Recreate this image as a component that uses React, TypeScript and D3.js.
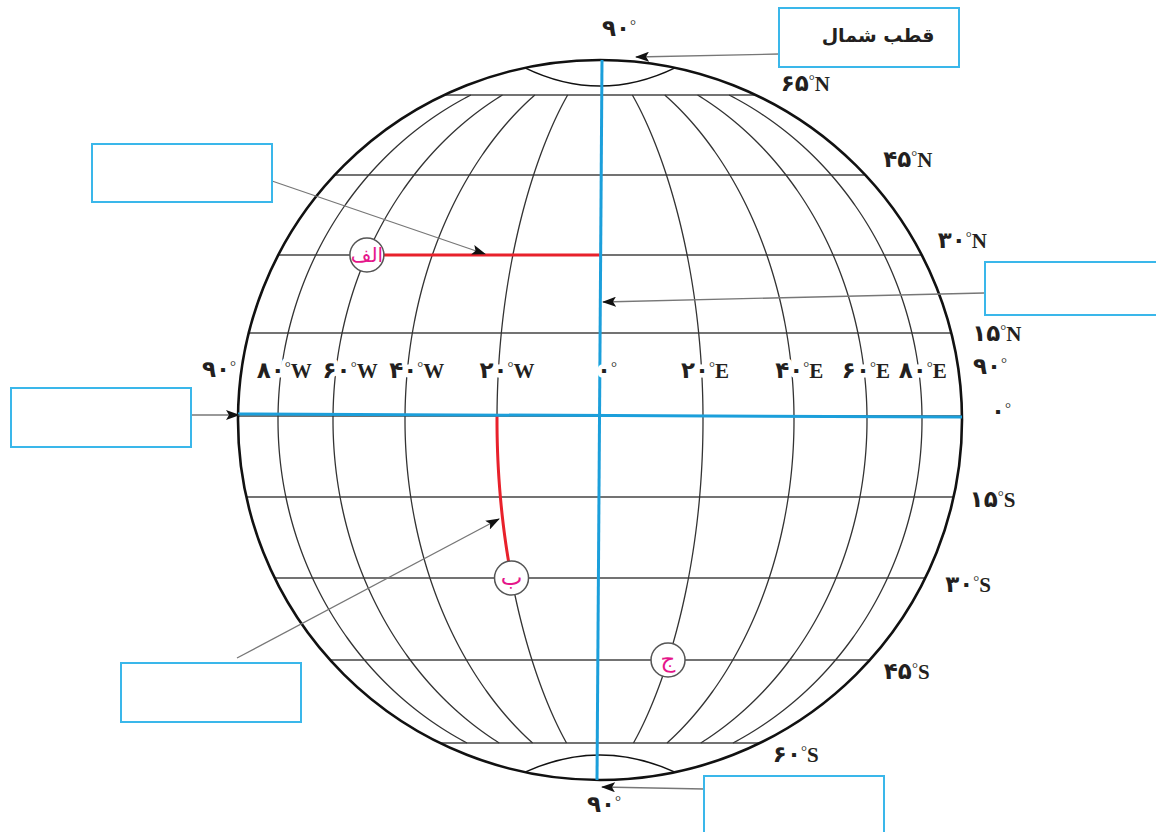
import React from "react";
import * as d3 from "d3";

// ---------- data ----------
const latitudes = [60, 45, 30, 15, 0, -15, -30, -45, -60];
const latitudeTexts = ["۶۵°N", "۴۵°N", "۳۰°N", "۱۵°N", "", "۱۵°S", "۳۰°S", "۴۵°S", "۶۰°S"];
const longitudes = [-80, -60, -40, -20, 0, 20, 40, 60, 80];
const longitudeTexts = ["۸۰°W", "۶۰°W", "۴۰°W", "۲۰°W", "۰°", "۲۰°E", "۴۰°E", "۶۰°E", "۸۰°E"];
const poleText = "۹۰°";
const equatorText = "۰°";
const northPoleTitle = "قطب شمال";
const pointNames = ["الف", "ب", "ج"];
const pointLons = [-60, -20, 20];
const pointLats = [30, -30, -45];

// ---------- layout ----------
const W = 1156, H = 832;
const CX = 600, CY = 420, RX = 362, RY = 360;
const yScale = d3.scaleLinear().domain(latitudes).range([95, 175, 255, 333, 416, 497, 578, 660, 743]);
const dScale = d3
  .scaleLinear()
  .domain([-90, -80, -60, -40, -20, 0, 20, 40, 60, 80, 90])
  .range([-362, -322, -267, -195, -103, 0, 103, 194, 267, 322, 362]);
const latLabelOffsets = [[25, -4], [18, -8], [16, -7], [21, 8], [0, 0], [16, 10], [20, 14], [14, 19], [13, 19]];
const lonLabelDx = [4, 15, 10, 9, 7, 3, 7, 1, 3];
const pointFontSizes = [20, 23, 23];

const BLUE = "#1b9fdb";
const BOX = "#3ab7ea";
const RED = "#e8212b";
const PINK = "#e5168a";
const LABEL_FONT = "'Liberation Serif', 'DejaVu Sans', serif";
const AR_FONT = "'DejaVu Sans', sans-serif";
const DIGIT_SIZE = 23;
const LETTER_SIZE = 21;

function edgeX(y: number) {
  const t = (y - CY) / RY;
  return RX * Math.sqrt(Math.max(0, 1 - t * t));
}
function meridianX(lon: number, y: number) {
  const d = dScale(lon);
  if (d === 0) return CX;
  const ad = Math.abs(d);
  const dy = y - CY;
  const t = dy / RY;
  const e = Math.sqrt(Math.max(0, 1 - t * t));
  const R = (RY * RY + ad * ad) / (2 * ad);
  const c = (Math.sqrt(Math.max(0, R * R - dy * dy)) - (R - ad)) / ad;
  const f = (e + c) / 2;
  return CX + Math.sign(d) * ad * f;
}

const line = d3.line<[number, number]>().curve(d3.curveBasis);

function meridianPath(lon: number, y0: number, y1: number) {
  const ys = d3.range(y0, y1, 3).concat([y1]);
  return line(ys.map((y) => [meridianX(lon, y), y]));
}

function LabelCore(props: { text: string; x: number; y: number; anchor?: string; extra?: any }) {
  const idx = props.text.indexOf("°");
  const digits = idx >= 0 ? props.text.slice(0, idx) : props.text;
  const letter = idx >= 0 ? props.text.slice(idx + 1) : "";
  return (
    <text
      x={props.x}
      y={props.y}
      textAnchor={props.anchor || "start"}
      fontFamily={LABEL_FONT}
      fontWeight="bold"
      fontSize={LETTER_SIZE}
      fill="#231f20"
      direction="ltr"
      {...(props.extra || {})}
    >
      <tspan fontFamily={AR_FONT} fontSize={DIGIT_SIZE}>{digits}</tspan>
      <tspan fontSize={15} fontWeight="normal" dy={-6}>°</tspan>
      <tspan dy={6}>{letter}</tspan>
    </text>
  );
}

function LabelText(props: { text: string; x: number; y: number; anchor?: string; halo?: boolean }) {
  return (
    <g>
      {props.halo && (
        <LabelCore
          {...props}
          extra={{ fill: "#fff", stroke: "#fff", strokeWidth: 9, strokeLinejoin: "round" }}
        />
      )}
      <LabelCore {...props} />
    </g>
  );
}

const boxes = [
  [779, 8, 180, 59],
  [92, 144, 180, 58],
  [985, 262, 180, 53],
  [11, 388, 180, 59],
  [121, 663, 180, 59],
  [704, 776, 180, 70],
];
const arrows = [
  [272, 181, 485, 254],
  [779, 54, 636, 57],
  [984, 293, 603, 302],
  [191, 415, 239, 415],
  [237, 658, 499, 519],
  [704, 789, 602, 787],
];

export default function App() {
  const yTop = yScale(60);
  const yBot = yScale(-60);
  const capDx = 75;
  const capTopY = CY - RY * Math.sqrt(1 - (capDx / RX) ** 2);
  const capBotY = CY + RY * Math.sqrt(1 - (capDx / RX) ** 2);

  return (
    <svg width={W} height={H} style={{ position: "absolute", left: 0, top: 0, background: "#fff" }}>
      <defs>
        <marker id="ah" markerUnits="userSpaceOnUse" markerWidth={14} markerHeight={10} refX={13} refY={5} orient="auto">
          <path d="M0,0 L14,5 L0,10 L3,5 Z" fill="#111" />
        </marker>
      </defs>
      <rect width={W} height={H} fill="#fff" />

      {/* parallels */}
      {latitudes.map((lat) => {
        const y = yScale(lat);
        const hw = edgeX(y);
        return <line key={"p" + lat} x1={CX - hw} x2={CX + hw} y1={y} y2={y} stroke="#444" strokeWidth={1.3} />;
      })}

      {/* meridians */}
      {longitudes
        .filter((l) => l !== 0)
        .map((lon) => (
          <path key={"m" + lon} d={meridianPath(lon, yTop, yBot) || ""} fill="none" stroke="#333" strokeWidth={1.3} />
        ))}

      {/* outer globe */}
      <ellipse cx={CX} cy={CY} rx={RX} ry={RY} fill="none" stroke="#111" strokeWidth={2.6} />

      {/* polar caps */}
      <path
        d={`M${CX - capDx},${capTopY} Q${CX},${2 * 86 - capTopY} ${CX + capDx},${capTopY}`}
        fill="none"
        stroke="#111"
        strokeWidth={1.5}
      />
      <path
        d={`M${CX - capDx},${capBotY} Q${CX},${2 * 755 - capBotY} ${CX + capDx},${capBotY}`}
        fill="none"
        stroke="#111"
        strokeWidth={1.5}
      />

      {/* red segments */}
      <line x1={meridianX(pointLons[0], yScale(pointLats[0]))} x2={CX} y1={yScale(30)} y2={yScale(30)} stroke={RED} strokeWidth={3} />
      <path d={meridianPath(pointLons[1], yScale(0), yScale(pointLats[1])) || ""} fill="none" stroke={RED} strokeWidth={3} />

      {/* blue lines */}
      <line x1={CX + 2} x2={CX - 3} y1={CY - RY} y2={CY + RY} stroke={BLUE} strokeWidth={3} />

      {/* longitude labels (with white halo that breaks the meridians) */}
      {longitudes.map((lon, i) => (
        <LabelText
          key={"ln" + lon}
          text={longitudeTexts[i]}
          x={meridianX(lon, 378) + lonLabelDx[i]}
          y={378}
          anchor="middle"
          halo
        />
      ))}

      <line x1={CX - RX} x2={CX + RX} y1={yScale(0) - 2} y2={yScale(0) + 1} stroke={BLUE} strokeWidth={3} />

      {/* arrows */}
      {arrows.map(([x1, y1, x2, y2], i) => (
        <line key={"a" + i} x1={x1} y1={y1} x2={x2} y2={y2} stroke="#777" strokeWidth={1.3} markerEnd="url(#ah)" />
      ))}

      {/* point markers */}
      {pointNames.map((name, i) => {
        const y = yScale(pointLats[i]);
        const x = meridianX(pointLons[i], y);
        return (
          <g key={"pt" + i}>
            <circle cx={x} cy={y} r={17} fill="#fff" stroke="#555" strokeWidth={1.5} />
            <text x={x} y={y + 7} textAnchor="middle" fontFamily={AR_FONT} fontSize={pointFontSizes[i]} fill={PINK}>
              {name}
            </text>
          </g>
        );
      })}

      {/* latitude labels */}
      {latitudes.map((lat, i) => {
        if (!latitudeTexts[i]) return null;
        const y = yScale(lat);
        const [dx, dy] = latLabelOffsets[i];
        return <LabelText key={"lt" + lat} text={latitudeTexts[i]} x={CX + edgeX(y) + dx} y={y + dy} />;
      })}

      {/* pole / equator end labels */}
      <LabelText text={poleText} x={619} y={36} anchor="middle" />
      <LabelText text={poleText} x={604} y={812} anchor="middle" />
      <LabelText text={poleText} x={CX - RX - 2} y={377} anchor="end" />
      <LabelText text={poleText} x={973} y={374} />
      <LabelText text={equatorText} x={991} y={419} />

      {/* boxes */}
      {boxes.map(([x, y, w, h], i) => (
        <rect key={"b" + i} x={x} y={y} width={w} height={h} fill="#fff" stroke={BOX} strokeWidth={2} />
      ))}
      <text x={878} y={42} textAnchor="middle" fontFamily={AR_FONT} fontWeight="bold" fontSize={19} fill="#231f20">
        {northPoleTitle}
      </text>
    </svg>
  );
}
